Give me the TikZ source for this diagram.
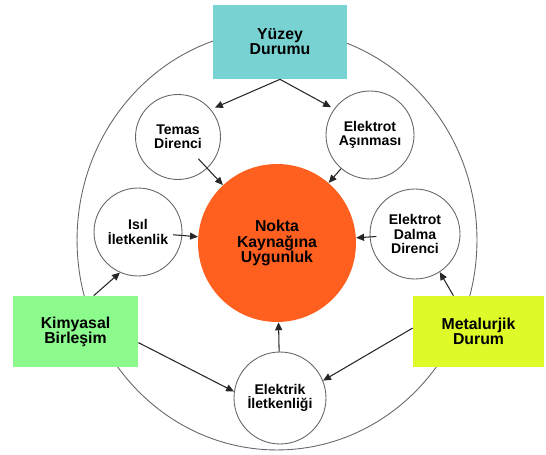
\documentclass[tikz,border=0pt]{standalone}
\usepackage{fontspec}
\setmainfont{Liberation Sans}
\usetikzlibrary{arrows.meta}
\definecolor{yuzeyrenk}{RGB}{120,210,210}
\definecolor{kimyarenk}{RGB}{140,250,140}
\definecolor{metalrenk}{RGB}{222,250,40}
\definecolor{noktarenk}{RGB}{255,96,32}
\begin{document}
\begin{tikzpicture}[x=0.02cm, y=-0.02cm,
		kutu/.style={rectangle, inner sep=0pt, align=center, font=\bfseries\fontsize{9}{8.6}\selectfont},
		halka/.style={circle, draw=black!60, line width=0.5pt, fill=white, inner sep=0pt, minimum size=1.76cm, align=center, font=\bfseries\fontsize{8}{8.2}\selectfont},
		ok/.style={-{Triangle[length=4.5pt, width=4pt]}, draw=black!85, line width=0.6pt}]
		\useasboundingbox (0, 0) rectangle (546, 455);
		\draw[black!60, line width=0.5pt] (277, 240) ellipse [x radius=4cm, y radius=4.2cm];
		\node[kutu, fill=yuzeyrenk, minimum width=2.68cm, minimum height=1.48cm] (yuzey) at (280, 42) {Yüzey\\Durumu};
		\node[kutu, fill=kimyarenk, minimum width=2.5cm, minimum height=1.42cm] (kimya) at (75.5, 331.5) {Kimyasal\\Birleşim};
		\node[kutu, fill=metalrenk, minimum width=2.62cm, minimum height=1.42cm] (metal) at (478.5, 331.5) {Metalurjik\\Durum};
		\node[circle, fill=noktarenk, minimum size=3.16cm, inner sep=0pt, align=center, font=\bfseries\fontsize{9}{8.6}\selectfont] (nokta) at (277, 243) {Nokta\\Kaynağına\\Uygunluk};
		\node[halka, minimum size=1.7cm] (temas) at (178, 137) {Temas\\Direnci};
		\node[halka] (asinma) at (370, 135) {Elektrot\\Aşınması};
		\node[halka] (isil) at (138, 232) {Isıl\\İletkenlik};
		\node[halka, minimum size=1.8cm] (dalma) at (415, 234) {Elektrot\\Dalma\\Direnci};
		\node[halka, minimum size=1.84cm] (elektrik) at (280, 398) {Elektrik\\İletkenliği};
		\draw[ok, shorten >=2.5pt] (yuzey.south) -- (temas.40);
		\draw[ok, shorten >=2pt] (yuzey.south) -- (asinma.144);
		\draw[ok, shorten <=17pt] (temas.center) -- (nokta);
		\draw[ok] (asinma) -- (nokta);
		\draw[ok, shorten <=20pt] (isil.center) -- (nokta);
		\draw[ok, shorten <=22pt] (dalma.center) -- (nokta);
		\draw[ok] (elektrik) -- (nokta);
		\draw[ok] (kimya.63) -- (isil.246);
		\draw[ok] (kimya.-10) -- (elektrik.172);
		\draw[ok] (metal.125) -- (dalma.303);
		\draw[ok] (metal.177) -- (elektrik.22);
\end{tikzpicture}
\end{document}
